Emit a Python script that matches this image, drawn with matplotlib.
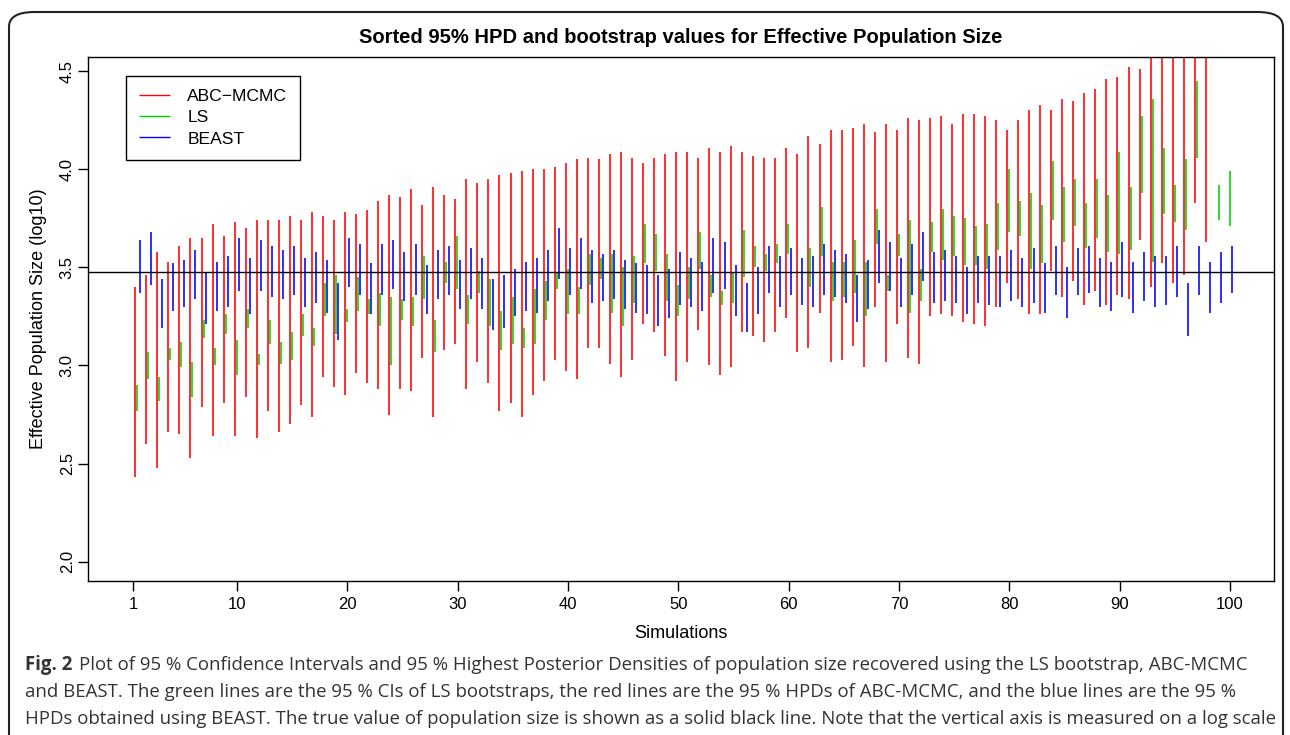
import numpy as np
import matplotlib
matplotlib.use("Agg")
from matplotlib import pyplot as plt
from matplotlib.patches import FancyBboxPatch

nan = np.nan

# 95% intervals (log10 of population size), one entry per simulation, sorted
abc_hi = [3.40, 3.46, 3.58, 3.53, 3.61, 3.65, 3.65, 3.72, 3.66, 3.73,
          3.70, 3.74, 3.74, 3.74, 3.76, 3.74, 3.78, 3.76, 3.74, 3.78,
          3.77, 3.79, 3.84, 3.87, 3.86, 3.90, 3.82, 3.91, 3.87, 3.85,
          3.95, 3.93, 3.95, 3.97, 3.98, 3.99, 4.00, 4.00, 4.01, 4.03,
          4.05, 4.06, 4.05, 4.08, 4.09, 4.06, 4.03, 4.06, 4.08, 4.09,
          4.09, 4.06, 4.11, 4.09, 4.12, 4.09, 4.07, 4.06, 4.06, 4.11,
          4.08, 4.17, 4.13, 4.20, 4.20, 4.21, 4.23, 4.19, 4.23, 4.20,
          4.26, 4.25, 4.26, 4.27, 4.23, 4.28, 4.28, 4.27, 4.25, 4.20,
          4.25, 4.30, 4.33, 4.30, 4.36, 4.35, 4.39, 4.41, 4.46, 4.47,
          4.52, 4.51, 4.70, 4.75, 4.78, 4.80, 4.85, 4.90, 5.00, 5.05]
abc_lo = [2.43, 2.60, 2.48, 2.66, 2.65, 2.53, 2.79, 2.64, 2.81, 2.64,
          2.84, 2.63, 2.77, 2.66, 2.70, 2.80, 2.74, 2.94, 2.89, 2.85,
          2.96, 2.91, 2.88, 2.75, 2.88, 2.87, 3.04, 2.74, 3.08, 3.11,
          2.88, 3.02, 2.91, 2.77, 2.81, 2.74, 2.85, 2.92, 3.03, 2.97,
          2.93, 3.09, 3.09, 3.01, 2.94, 3.03, 3.21, 3.17, 3.05, 2.92,
          3.02, 3.18, 3.00, 2.95, 2.99, 3.17, 3.15, 3.12, 3.17, 3.24,
          3.07, 3.09, 3.27, 3.02, 3.03, 3.10, 2.99, 3.30, 3.02, 3.21,
          3.04, 3.01, 3.25, 3.26, 3.25, 3.22, 3.21, 3.20, 3.30, 3.42,
          3.34, 3.26, 3.26, 3.48, 3.35, 3.43, 3.31, 3.38, 3.31, 3.36,
          3.34, 3.64, 3.40, 3.52, 3.42, 3.46, 3.83, 3.63, 4.62, 4.66]

ls_hi = [2.90, 3.07, 2.94, 3.09, 3.12, 3.02, 3.23, 3.09, 3.26, 3.13,
         3.29, 3.06, 3.23, 3.12, 3.17, 3.26, 3.19, 3.42, 3.46, 3.29,
         3.45, 3.34, 3.37, 3.35, 3.34, 3.35, 3.56, 3.23, 3.53, 3.66,
         3.36, 3.48, 3.44, 3.28, 3.35, 3.19, 3.39, 3.43, 3.47, 3.49,
         3.40, 3.57, 3.55, 3.57, 3.50, 3.56, 3.72, 3.67, 3.57, 3.41,
         3.50, 3.68, 3.46, 3.38, 3.47, 3.69, 3.61, 3.57, 3.62, 3.72,
         nan, 3.60, 3.81, 3.53, 3.53, 3.64, 3.53, 3.80, 3.46, 3.67,
         3.74, 3.49, 3.73, 3.80, 3.76, 3.75, 3.71, 3.72, 3.83, 4.00,
         3.84, 3.88, 3.82, 4.04, 3.91, 3.95, 3.83, 3.95, 3.87, 4.09,
         3.91, 4.27, 4.36, 4.11, 3.92, 4.05, 4.45, 4.80, 3.92, 3.99]
ls_lo = [2.77, 2.93, 2.82, 3.03, 2.99, 2.84, 3.14, 3.00, 3.16, 2.95,
         3.19, 3.00, 3.11, 3.01, 3.03, 3.15, 3.10, 3.25, 3.16, 3.22,
         3.28, 3.26, 3.20, 3.00, 3.23, 3.20, 3.34, 3.07, 3.42, 3.39,
         3.21, 3.37, 3.20, 3.08, 3.11, 3.09, 3.11, 3.23, 3.39, 3.26,
         3.26, 3.41, 3.44, 3.27, 3.20, 3.32, 3.52, 3.48, 3.33, 3.25,
         3.34, 3.49, 3.35, 3.31, 3.32, 3.45, 3.50, 3.48, 3.52, 3.57,
         nan, 3.40, 3.56, 3.33, 3.35, 3.37, 3.25, 3.62, 3.38, 3.56,
         3.27, 3.33, 3.58, 3.54, 3.56, 3.51, 3.51, 3.49, 3.59, 3.68,
         3.66, 3.49, 3.52, 3.74, 3.63, 3.71, 3.60, 3.65, 3.58, 3.57,
         3.59, 3.88, 3.53, 3.77, 3.73, 3.69, 4.06, 4.62, 3.74, 3.71]

beast_hi = [3.64, 3.68, 3.44, 3.52, 3.54, 3.59, 3.47, 3.53, 3.56, 3.65,
            3.55, 3.64, 3.61, 3.59, 3.61, 3.55, 3.58, 3.54, 3.42, 3.65,
            3.62, 3.52, 3.62, 3.64, 3.58, 3.62, 3.51, 3.59, 3.61, 3.54,
            3.60, 3.55, 3.44, 3.46, 3.49, 3.53, 3.55, 3.59, 3.70, 3.60,
            3.65, 3.59, 3.57, 3.59, 3.54, 3.52, 3.51, 3.46, 3.49, 3.58,
            3.55, 3.53, 3.65, 3.63, 3.51, 3.42, 3.50, 3.61, 3.56, 3.60,
            3.55, 3.56, 3.62, 3.59, 3.57, 3.46, 3.54, 3.69, 3.63, 3.55,
            3.62, 3.68, 3.58, 3.59, 3.56, 3.50, 3.56, 3.56, 3.56, 3.59,
            3.55, 3.60, 3.52, 3.61, 3.50, 3.60, 3.61, 3.55, 3.53, 3.63,
            3.53, 3.58, 3.56, 3.56, 3.61, 3.42, 3.61, 3.53, 3.58, 3.61]
beast_lo = [3.37, 3.41, 3.19, 3.28, 3.30, 3.34, 3.21, 3.28, 3.30, 3.38,
            3.26, 3.38, 3.35, 3.34, 3.36, 3.30, 3.32, 3.27, 3.13, 3.40,
            3.36, 3.26, 3.36, 3.39, 3.33, 3.36, 3.26, 3.34, 3.36, 3.29,
            3.34, 3.29, 3.18, 3.19, 3.25, 3.28, 3.27, 3.33, 3.44, 3.36,
            3.39, 3.32, 3.33, 3.34, 3.29, 3.27, 3.26, 3.20, 3.24, 3.31,
            3.30, 3.28, 3.37, 3.39, 3.25, 3.17, 3.26, 3.37, 3.30, 3.36,
            3.31, 3.30, 3.36, 3.35, 3.32, 3.22, 3.29, 3.42, 3.38, 3.30,
            3.36, 3.43, 3.32, 3.33, 3.32, 3.26, 3.32, 3.31, 3.30, 3.33,
            3.30, 3.32, 3.27, 3.36, 3.24, 3.36, 3.37, 3.30, 3.28, 3.35,
            3.27, 3.33, 3.30, 3.31, 3.35, 3.15, 3.36, 3.27, 3.32, 3.37]

true_value = 3.477
sim_ticks = [1, 10, 20, 30, 40, 50, 60, 70, 80, 90, 100]
y_ticks = [2.0, 2.5, 3.0, 3.5, 4.0, 4.5]

caption = [
    "Plot of 95 % Confidence Intervals and 95 % Highest Posterior Densities of population size recovered using the LS bootstrap, ABC-MCMC",
    "and BEAST. The green lines are the 95 % CIs of LS bootstraps, the red lines are the 95 % HPDs of ABC-MCMC, and the blue lines are the 95 %",
    "HPDs obtained using BEAST. The true value of population size is shown as a solid black line. Note that the vertical axis is measured on a log scale",
]

plt.rcParams['font.family'] = ['Liberation Sans', 'DejaVu Sans']

fig = plt.figure(figsize=(12.9, 7.35), dpi=100)
ax = fig.add_axes([0.0682, 0.2091, 0.9192, 0.7138])

x = np.arange(1, len(abc_hi) + 1)
lw = 1.15
ax.vlines(x, abc_lo, abc_hi, color='#FF0000', lw=lw, label='ABC\u2212MCMC')
ax.vlines(x + 0.18, ls_lo, ls_hi, color='#00CD00', lw=lw, label='LS')
ax.vlines(x + 0.39, beast_lo, beast_hi, color='#0000FF', lw=lw, label='BEAST')
ax.axhline(true_value, color='black', lw=1.0)

ax.set_xlim(-3.29, 104.16)
ax.set_ylim(1.9, 4.574)

# tick marks sit slightly right of the red bars, first one slightly left
tick_pos = np.array(sim_ticks, dtype=float) + 0.2
tick_pos[0] = 0.8
ax.set_xticks(tick_pos)
ax.set_xticklabels([str(t) for t in sim_ticks])
ax.set_yticks(y_ticks)
ax.set_yticklabels(['%.1f' % t for t in y_ticks], rotation=90, va='center')
ax.tick_params(direction='out', length=7.5, width=1.0, labelsize=12)
ax.tick_params(axis='x', pad=3.5)
ax.tick_params(axis='y', pad=2)
for s in ax.spines.values():
    s.set_linewidth(1.0)

ax.set_title('Sorted 95% HPD and bootstrap values for Effective Population Size',
             fontsize=14.5, fontweight='bold', pad=10)
ax.set_xlabel('Simulations', fontsize=13, labelpad=10)
ax.set_ylabel('Effective Population Size (log10)', fontsize=13, labelpad=9)

leg = ax.legend(loc='upper left', bbox_to_anchor=(0.032, 0.963), fontsize=12.6,
                handlelength=1.75, handletextpad=1.0, labelspacing=0.33,
                borderpad=0.75, fancybox=False, framealpha=1, borderaxespad=0)
leg.get_frame().set_edgecolor('black')
leg.get_frame().set_linewidth(1.0)
for h in leg.legend_handles:
    h.set_linewidth(1.0)

# caption under the figure
cap_font = ['Open Sans', 'DejaVu Sans']
cap_size = 13.4
cap_color = '#333333'
fig.canvas.draw()
renderer = fig.canvas.get_renderer()
fig_lbl = fig.text(25 / 1290, 1 - 665 / 735, 'Fig. 2', fontsize=cap_size,
                   fontweight='bold', family=cap_font, color=cap_color, va='center')
bb = fig_lbl.get_window_extent(renderer=renderer)
fig.text((bb.x1 + 7) / 1290, 1 - 665 / 735, caption[0], fontsize=cap_size,
         family=cap_font, color=cap_color, va='center')
fig.text(25 / 1290, 1 - 692 / 735, caption[1], fontsize=cap_size, family=cap_font,
         color=cap_color, va='center')
fig.text(25 / 1290, 1 - 719 / 735, caption[2], fontsize=cap_size, family=cap_font,
         color=cap_color, va='center')

# rounded outer frame, open at the bottom
frame = FancyBboxPatch((9 / 1290, -0.2), 1274 / 1290, 1.2 - 12 / 735,
                       boxstyle='round,pad=0,rounding_size=0.02',
                       transform=fig.transFigure, fill=False,
                       edgecolor='#222222', lw=1.5, clip_on=False)
fig.patches.append(frame)

fig.savefig('out.png', dpi=100)
